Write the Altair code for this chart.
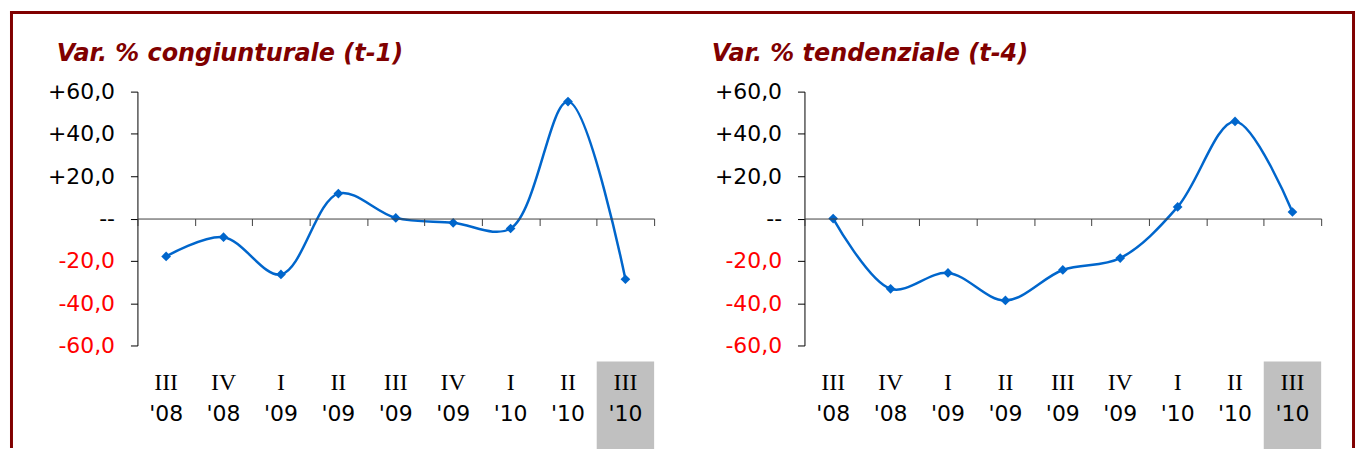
import altair as alt
import pandas as pd

quarters = ["III", "IV", "I", "II", "III", "IV", "I", "II", "III"]
years = ["'08", "'08", "'09", "'09", "'09", "'09", "'10", "'10", "'10"]
congiunturale = [-17.9, -8.8, -26.4, 11.8, 0.3, -2.0, -4.7, 55.3, -28.7]
tendenziale = [0.0, -33.2, -25.7, -38.7, -24.3, -18.7, 5.5, 45.9, 3.1]
titles = ["Var. % congiunturale (t-1)", "Var. % tendenziale (t-4)"]
y_ticks = [-60, -40, -20, 0, 20, 40, 60]

cats = [f"{q} {y}" for q, y in zip(quarters, years)]
highlight = cats[-1]

W, H = 519, 255
LINE = "#0066CC"
DARKRED = "#800000"

label_expr = ("datum.value == 0 ? '--' : (datum.value > 0 ? '+' : '-') + "
              "replace(format(abs(datum.value), '.1f'), '.', ',')")


def panel(values, title, title_dx, border=False):
    df = pd.DataFrame({"cat": cats, "q": quarters, "yr": years, "v": values})
    x_enc = alt.X(
        "cat:N",
        sort=cats,
        scale=alt.Scale(domain=cats, paddingInner=0, paddingOuter=0),
        axis=alt.Axis(
            title=None, labels=False, orient="bottom", offset=-H / 2,
            tickBand="extent", domainColor="#404040", tickColor="#404040",
            tickSize=7, domainWidth=1, tickWidth=1, grid=False,
        ),
    )
    y_enc = alt.Y(
        "v:Q",
        scale=alt.Scale(domain=[-60, 60], nice=False, zero=False),
        axis=alt.Axis(
            title=None, values=y_ticks, labelExpr=label_expr,
            labelColor={"condition": {"test": "datum.value < 0", "value": "#FF0000"},
                        "value": "#000000"},
            labelFont="DejaVu Sans", labelFontSize=22, labelPadding=16,
            tickSize=7, tickColor="#000000", domainColor="#000000",
            grid=False,
        ),
    )
    base = alt.Chart(df)
    box = base.transform_filter(alt.datum.cat == highlight).mark_rect(
        color="#C0C0C0"
    ).encode(x=x_enc, y=alt.value(271), y2=alt.value(359))
    line = base.mark_line(
        color=LINE, strokeWidth=2.5, interpolate="catmull-rom"
    ).encode(x=x_enc, y=y_enc)
    pts = base.mark_point(
        shape="diamond", filled=True, color=LINE, size=95, opacity=1
    ).encode(x=x_enc, y=y_enc)
    lab1 = base.mark_text(
        font="Liberation Serif", fontSize=24, baseline="alphabetic", color="#000000"
    ).encode(x=x_enc, y=alt.value(300), text="q:N")
    lab2 = base.mark_text(
        font="DejaVu Sans", fontSize=22, baseline="alphabetic", color="#000000"
    ).encode(x=x_enc, y=alt.value(331), text="yr:N")
    ttl = alt.Chart(pd.DataFrame({"t": [title]})).mark_text(
        font="DejaVu Sans", fontSize=24, fontWeight="bold", fontStyle="italic",
        color=DARKRED, align="left", baseline="alphabetic",
    ).encode(x=alt.value(title_dx), y=alt.value(-31), text="t:N")
    layers = [box, line, pts, lab1, lab2, ttl]
    if border:
        bdf = pd.DataFrame({"b": [0]})
        top = alt.Chart(bdf).mark_rule(color=DARKRED, strokeWidth=3).encode(
            x=alt.value(-128), x2=alt.value(1223), y=alt.value(-79.5))
        left = alt.Chart(bdf).mark_rule(color=DARKRED, strokeWidth=3).encode(
            x=alt.value(-126.5), y=alt.value(-81), y2=alt.value(358))
        right = alt.Chart(bdf).mark_rule(color=DARKRED, strokeWidth=3).encode(
            x=alt.value(1221.5), y=alt.value(-81), y2=alt.value(358))
        layers += [top, left, right]
    return alt.layer(*layers).properties(width=W, height=H)


chart = alt.hconcat(
    panel(congiunturale, titles[0], -81, border=True),
    panel(tendenziale, titles[1], -93),
    spacing=151,
    bounds="flush",
).properties(
    padding=0, background="white"
).configure_view(stroke=None)

chart.save("out.html", embed_options={"renderer": "svg", "actions": False})
